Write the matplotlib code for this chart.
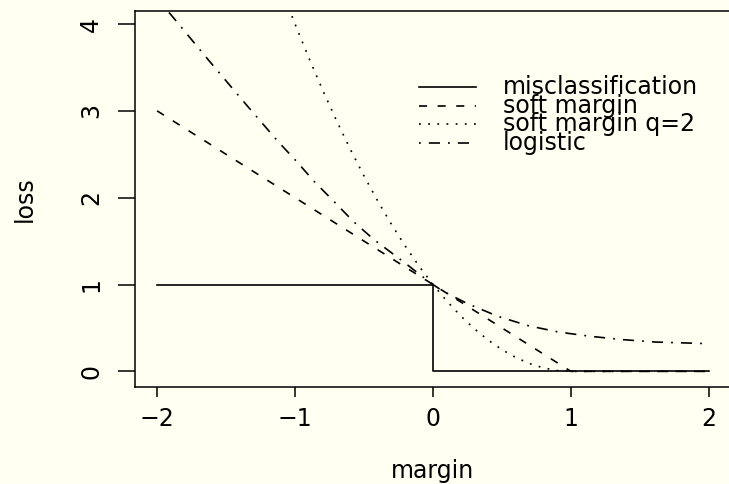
import matplotlib
matplotlib.use("Agg")
import matplotlib.pyplot as plt

# values
margin_mis = [-2.0, 0.0, 0.0, 2.0]
loss_mis = [1.0, 1.0, 0.0, 0.0]

margin_soft = [-2.0, 1.0, 2.0]
loss_soft = [3.0, 0.0, 0.0]

margin_q2 = [-1.1, -1.0, -0.9, -0.8, -0.7, -0.6, -0.5, -0.4, -0.3, -0.2, -0.1,
             0.0, 0.1, 0.2, 0.3, 0.4, 0.5, 0.6, 0.7, 0.8, 0.9, 1.0, 2.0]
loss_q2 = [4.41, 4.0, 3.61, 3.24, 2.89, 2.56, 2.25, 1.96, 1.69, 1.44, 1.21,
           1.0, 0.81, 0.64, 0.49, 0.36, 0.25, 0.16, 0.09, 0.04, 0.01, 0.0, 0.0]

margin_logit = [-1.96, -1.88, -1.63, -1.38, -1.125, -0.99, -0.86, -0.72, -0.58,
                -0.43, -0.2, -0.1, 0.0, 0.07, 0.25, 0.47, 0.69, 0.91, 1.145,
                1.38, 1.61, 2.0]
loss_logit = [4.22, 4.07, 3.59, 3.12, 2.65, 2.42, 2.185, 1.96, 1.73,
              1.52, 1.245, 1.12, 1.0, 0.925, 0.78, 0.634, 0.526, 0.453, 0.403,
              0.365, 0.338, 0.319]

labels = ["misclassification", "soft margin", "soft margin q=2", "logistic"]
x_ticks = [-2, -1, 0, 1, 2]
y_ticks = [0, 1, 2, 3, 4]

bg = "#fffff2"
plt.rcParams["font.family"] = ["DejaVu Sans"]
plt.rcParams["lines.scale_dashes"] = False
fs = 17

fig = plt.figure(figsize=(7.29, 4.84), dpi=100, facecolor=bg)
# axes box: left 135px, top 11px, bottom 387px, right edge falls just past the image
ax = fig.add_axes([135 / 729, 97 / 484, 596 / 729, 376 / 484], facecolor=bg)

lw = 1.2
styles = [
    dict(linestyle="-"),
    dict(linestyle=(0, (5.8, 7.6))),
    dict(linestyle=(0, (1.3, 5.3))),
    dict(linestyle=(0, (1.3, 5.8, 8.0, 5.8))),
]
series = [(margin_mis, loss_mis), (margin_soft, loss_soft),
          (margin_q2, loss_q2), (margin_logit, loss_logit)]

for (mx, ly), st in zip(series, styles):
    ax.plot(mx, ly, color="black", lw=lw, dash_capstyle="butt", **st)

ax.set_xlim(-2.16, 2.16)
ax.set_ylim(-0.18, 4.15)
ax.set_xticks(x_ticks)
ax.set_yticks(y_ticks)
ax.set_xticklabels(["\u22122", "\u22121", "0", "1", "2"])
ax.set_yticklabels([str(t) for t in y_ticks], rotation=90, va="center")
ax.tick_params(axis="x", direction="out", length=7, width=1.1,
               labelsize=fs, pad=7.5)
ax.tick_params(axis="y", direction="out", length=12, width=1.1,
               labelsize=fs, pad=11)
for sp in ax.spines.values():
    sp.set_linewidth(1.1)

ax.set_xlabel("margin", fontsize=fs, va="center")
ax.xaxis.set_label_coords(0.5, -(471 - 387) / 376)
ax.set_ylabel("loss", fontsize=fs, va="center")
ax.yaxis.set_label_coords(-(135 - 25) / 596, 0.5)

# legend drawn by hand, no box, rows packed tightly like R's legend()
row_y = [1 - 76 / 376, 1 - 94.6 / 376, 1 - 113.2 / 376, 1 - 131.8 / 376]
x0, x1, xt = (419 - 135) / 596, (476 - 135) / 596, (503 - 135) / 596
for lab, st, yy in zip(labels, styles, row_y):
    ax.plot([x0, x1], [yy, yy], transform=ax.transAxes, color="black",
            lw=lw, dash_capstyle="butt", **st)
    ax.text(xt, yy, lab, transform=ax.transAxes, fontsize=fs,
            va="center", ha="left")

fig.savefig("out.png", dpi=100, facecolor=bg)
